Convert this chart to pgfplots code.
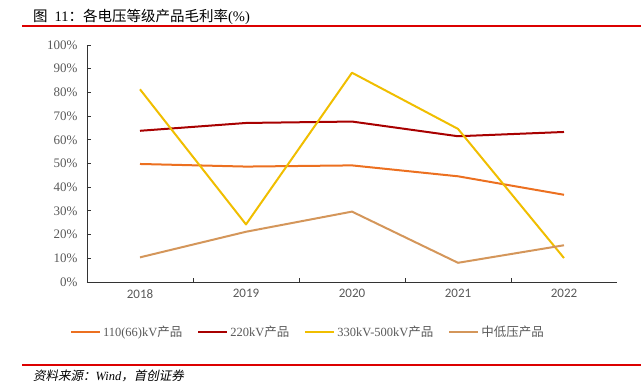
\documentclass[border=0pt]{standalone}
\usepackage{fontspec}
\setmainfont{Liberation Serif}
\newfontfamily\cjk{Noto Sans CJK SC}
\newfontfamily\cjkit{Noto Sans CJK SC}[FakeSlant=0.2]
\newfontfamily\carlito{Carlito}
\usepackage{pgfplots}
\pgfplotsset{compat=1.18}
\definecolor{cOrange}{RGB}{236,112,32}
\definecolor{cRed}{RGB}{168,0,0}
\definecolor{cYellow}{RGB}{240,190,0}
\definecolor{cTan}{RGB}{212,150,90}
\definecolor{txtgray}{RGB}{89,89,89}
\definecolor{rule}{RGB}{220,0,0}
\begin{document}
\begin{tikzpicture}
\useasboundingbox (0bp,0bp) rectangle (641bp,384bp);
% title
\node[anchor=base west,inner sep=0pt,font=\fontsize{14.5bp}{16bp}\selectfont] at (33bp,362bp) {{\cjk 图}\hspace{7bp}11{\cjk ：各电压等级产品毛利率}(\%)};
\draw[rule,line width=1.3bp] (22bp,358bp) -- (641bp,358bp);
% bottom rule and source
\draw[rule,line width=1.3bp] (22bp,19bp) -- (641bp,19bp);
\node[anchor=base west,inner sep=0pt,font=\fontsize{12.5bp}{14bp}\selectfont] at (33bp,3.5bp) {{\cjkit 资料来源：}\textit{Wind}{\cjkit ，首创证券}};
\begin{axis}[
  at={(87bp,102bp)}, anchor=south west,
  scale only axis, width=530bp, height=237bp,
  xmin=-0.5, xmax=4.5, ymin=0, ymax=100,
  axis x line=bottom, axis y line=left,
  axis line style={-, draw=black!80, line width=0.8bp},
  tick align=inside,
  major tick length=4bp,
  tick style={draw=black!80, line width=0.8bp},
  ytick={0,10,...,100},
  yticklabels={0\%,10\%,20\%,30\%,40\%,50\%,60\%,70\%,80\%,90\%,100\%},
  yticklabel style={font=\fontsize{13bp}{15bp}\selectfont, text=txtgray, xshift=-6bp},
  xtick={0.5,1.5,2.5,3.5}, xticklabels={},
  extra x ticks={0,1,2,3,4},
  extra x tick labels={2018,2019,2020,2021,2022},
  extra x tick style={major tick length=0pt, tick style={draw=none}},
  xticklabel style={font=\carlito\fontsize{13bp}{15bp}\selectfont, text=txtgray, yshift=-4bp},
  legend columns=4,
  legend style={at={(0.417,-0.211)}, anchor=center, draw=none, fill=none,
    font=\fontsize{12.5bp}{14bp}\selectfont, text=txtgray,
    /tikz/every even column/.append style={column sep=13bp}},
  legend image code/.code={\draw[#1] (0bp,0bp) -- (29bp,0bp);},
  every axis plot/.append style={line width=2bp, line join=round},
  clip=false,
]
\addplot[cOrange] coordinates {(0,49.8) (1,48.7) (2,49.2) (3,44.6) (4,36.8)};
\addlegendentry{110(66)kV{\cjk 产品}}
\addplot[cRed] coordinates {(0,63.8) (1,67.1) (2,67.7) (3,61.5) (4,63.3)};
\addlegendentry{220kV{\cjk 产品}}
\addplot[cYellow] coordinates {(0,81.3) (1,24.3) (2,88.3) (3,64.6) (4,10.1)};
\addlegendentry{330kV-500kV{\cjk 产品}}
\addplot[cTan] coordinates {(0,10.4) (1,21.2) (2,29.7) (3,8.1) (4,15.5)};
\addlegendentry{{\cjk 中低压产品}}
\end{axis}
\end{tikzpicture}
\end{document}
